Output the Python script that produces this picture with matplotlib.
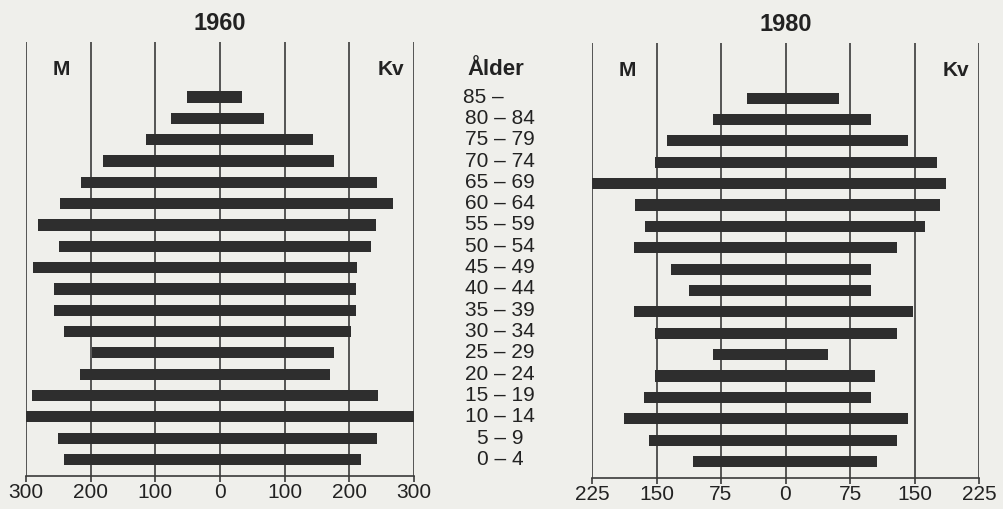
import matplotlib
matplotlib.use('Agg')
import matplotlib.pyplot as plt
import numpy as np

plt.rcParams['font.family'] = ['Liberation Sans', 'DejaVu Sans']

# age groups, youngest first (bottom of the pyramid)
ages = ['0 – 4', '5 – 9', '10 – 14', '15 – 19', '20 – 24', '25 – 29',
        '30 – 34', '35 – 39', '40 – 44', '45 – 49', '50 – 54', '55 – 59',
        '60 – 64', '65 – 69', '70 – 74', '75 – 79', '80 – 84', '85 –']

men_1960 = [241, 251, 306, 291, 216, 198, 241, 256, 256, 289, 249, 281,
            248, 215, 181, 115, 75, 51]
women_1960 = [218, 243, 302, 244, 170, 176, 202, 211, 211, 212, 233, 242,
              267, 243, 176, 144, 68, 34]

men_1980 = [108, 159, 188, 164, 152, 84, 152, 176, 112, 133, 176, 163,
            175, 226, 152, 138, 84, 45]
women_1980 = [106, 130, 142, 99, 104, 49, 130, 148, 99, 99, 130, 162,
              180, 187, 176, 143, 99, 62]

ticks_1960 = [-300, -200, -100, 0, 100, 200, 300]
ticks_1980 = [-225, -150, -75, 0, 75, 150, 225]

bg = '#efefeb'
ink = '#2e2e2e'
W, H = 1004, 509

fig = plt.figure(figsize=(W / 100, H / 100), dpi=100, facecolor=bg)


def px_axes(x0, x1, ytop, ybot):
    return fig.add_axes([x0 / W, (H - ybot) / H, (x1 - x0) / W, (ybot - ytop) / H])


def pyramid(ax, men, women, ticks, year):
    y = np.arange(len(men))
    ax.set_facecolor('none')
    ax.barh(y, -np.array(men), height=0.52, color=ink, linewidth=0, zorder=3)
    ax.barh(y, women, height=0.52, color=ink, linewidth=0, zorder=3)
    for t in ticks:
        ax.axvline(t, color='#3a3a3a', lw=1.2, zorder=2)
    ax.set_xlim(ticks[0], ticks[-1])
    ax.set_ylim(-0.77, 19.58)
    ax.set_xticks(ticks)
    ax.set_xticklabels([str(abs(t)) for t in ticks], fontsize=15, color='#222')
    ax.tick_params(axis='x', direction='out', length=4, width=1.2,
                   color='#3a3a3a', pad=1)
    ax.set_yticks([])
    for s in ['left', 'right', 'top']:
        ax.spines[s].set_visible(False)
    ax.spines['bottom'].set_color('#3a3a3a')
    ax.spines['bottom'].set_linewidth(1.2)
    span = ticks[-1] - ticks[0]
    ax.text(0, 20.45, year, ha='center', va='center', fontsize=17,
            fontweight='bold', color='#222')
    ax.text(ticks[0] + 0.09 * span, 18.3, 'M', ha='center', va='center',
            fontsize=15, fontweight='bold', color='#222')
    ax.text(ticks[-1] - 0.06 * span, 18.3, 'Kv', ha='center', va='center',
            fontsize=15, fontweight='bold', color='#222')


ax1 = px_axes(26, 414, 42, 476)
pyramid(ax1, men_1960, women_1960, ticks_1960, '1960')

ax2 = px_axes(592, 979, 43, 478)
pyramid(ax2, men_1980, women_1980, ticks_1980, '1980')

# middle column with age labels, same vertical scale as the left pyramid
axm = px_axes(430, 570, 42, 476)
axm.set_xlim(0, 1)
axm.set_ylim(-0.77, 19.58)
axm.axis('off')
for i, lab in enumerate(ages):
    if lab == '85 –':
        axm.text(0.235, i, lab, ha='left', va='center', fontsize=15, color='#222')
    else:
        axm.text(0.5, i, lab, ha='center', va='center', fontsize=15, color='#222')
axm.text(0.47, 18.3, 'Ålder', ha='center', va='center', fontsize=16,
         fontweight='bold', color='#222')

fig.savefig('out.png', dpi=100, facecolor=bg)
